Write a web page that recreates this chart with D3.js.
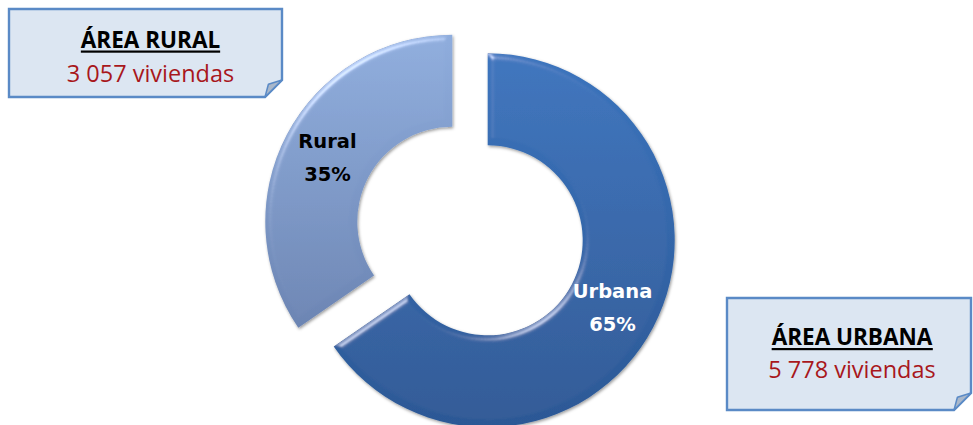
<!DOCTYPE html>
<html>
<head>
<meta charset="utf-8">
<script src="https://cdn.jsdelivr.net/npm/d3@7"></script>
<style>
  html, body { margin: 0; padding: 0; background: #fff; }
  svg { display: block; }
</style>
</head>
<body>
<svg id="chart" width="973" height="425"></svg>
<script>
const categories = ["Urbana", "Rural"];
const viviendas = [5778, 3057];
const boxTitles = ["ÁREA URBANA", "ÁREA RURAL"];
const boxValues = ["5 778 viviendas", "3 057 viviendas"];

const W = 973, H = 425;
const svg = d3.select("#chart");
const defs = svg.append("defs");

// slice gradients (top light -> bottom dark)
const grads = [
  { id: "gUrb", top: "#3b74bd", bottom: "#2c5895" },
  { id: "gRur", top: "#8faddd", bottom: "#6c85b3" }
];
grads.forEach(gr => {
  const lg = defs.append("linearGradient").attr("id", gr.id)
    .attr("x1", 0).attr("y1", 0).attr("x2", 0).attr("y2", 1);
  lg.append("stop").attr("offset", "0%").attr("stop-color", gr.top);
  lg.append("stop").attr("offset", "100%").attr("stop-color", gr.bottom);
});

// soft bevel: highlight only near the edges
const bevel = defs.append("filter").attr("id", "bevel")
  .attr("x", "-10%").attr("y", "-10%").attr("width", "120%").attr("height", "120%");
bevel.append("feGaussianBlur").attr("in", "SourceAlpha").attr("stdDeviation", 3).attr("result", "blur");
const spec = bevel.append("feSpecularLighting").attr("in", "blur")
  .attr("surfaceScale", 4).attr("specularConstant", 0.8).attr("specularExponent", 28)
  .attr("lighting-color", "#ffffff").attr("result", "spec");
spec.append("feDistantLight").attr("azimuth", 235).attr("elevation", 30);
bevel.append("feComposite").attr("in", "spec").attr("in2", "SourceAlpha").attr("operator", "in").attr("result", "specIn");
bevel.append("feComposite").attr("in", "SourceGraphic").attr("in2", "specIn")
  .attr("operator", "arithmetic").attr("k1", 0).attr("k2", 1).attr("k3", 0.55).attr("k4", 0).attr("result", "lit");
bevel.append("feDropShadow").attr("in", "lit").attr("dx", 1).attr("dy", 1.5).attr("stdDeviation", 1.6)
  .attr("flood-color", "#000").attr("flood-opacity", 0.4);

// donut
const cx = 470, cy = 231, explode = 20;
const rInner = 95, rOuter = 187;
const data = categories.map((c, i) => ({ name: c, value: viviendas[i] }));
const total = d3.sum(viviendas);
const pct = d3.format(".0%");

const pie = d3.pie().sort(null).value(d => d.value);
const arc = d3.arc().innerRadius(rInner).outerRadius(rOuter);
const arcs = pie(data);

const g = svg.append("g").attr("transform", `translate(${cx},${cy})`);
const slices = g.selectAll("g.slice").data(arcs).enter().append("g")
  .attr("class", "slice")
  .attr("transform", d => {
    const a = (d.startAngle + d.endAngle) / 2;
    return `translate(${Math.sin(a) * explode},${-Math.cos(a) * explode})`;
  });

slices.append("path")
  .attr("d", arc)
  .attr("fill", (d, i) => `url(#${grads[i].id})`)
  .attr("filter", "url(#bevel)");

const labelColor = ["#ffffff", "#000000"];
slices.each(function(d, i) {
  const [lx, ly] = arc.centroid(d);
  const t = d3.select(this).append("text")
    .attr("text-anchor", "middle")
    .attr("font-family", "DejaVu Sans")
    .attr("font-weight", "bold")
    .attr("font-size", 19.5)
    .attr("fill", labelColor[i]);
  t.append("tspan").attr("x", lx).attr("y", ly - 8).text(d.data.name);
  t.append("tspan").attr("x", lx).attr("y", ly + 25).text(pct(d.data.value / total));
});

// callout boxes with folded corner
const boxes = [
  { x: 727, y: 298, w: 244, h: 112 },
  { x: 9, y: 9, w: 273, h: 88 }
];
const fold = 17;
boxes.forEach((b, i) => {
  const bg = svg.append("g").attr("transform", `translate(${b.x},${b.y})`);
  bg.append("path")
    .attr("d", `M0,0 H${b.w} V${b.h - fold} L${b.w - fold},${b.h} H0 Z`)
    .attr("fill", "#dce6f2")
    .attr("stroke", "#5a8ac6")
    .attr("stroke-width", 2.4)
    .attr("stroke-linejoin", "miter");
  bg.append("path")
    .attr("d", `M${b.w},${b.h - fold} L${b.w - fold * 0.8},${b.h - fold * 0.75} L${b.w - fold},${b.h} Z`)
    .attr("fill", "#a9b7ca")
    .attr("stroke", "#5a8ac6")
    .attr("stroke-width", 1.5)
    .attr("stroke-linejoin", "round");

  const mx = b.w / 2 + (i === 0 ? 3 : 5);
  const titleY = i === 0 ? 47 : 38.5;
  const valueY = i === 0 ? 80 : 72.5;
  const title = bg.append("text")
    .attr("x", mx).attr("y", titleY)
    .attr("text-anchor", "middle")
    .attr("font-family", "Open Sans")
    .attr("font-weight", "bold")
    .attr("font-size", 22.5)
    .attr("fill", "#000")
    .text(boxTitles[i]);
  const bb = title.node().getBBox();
  bg.append("rect")
    .attr("x", bb.x).attr("y", titleY + 3)
    .attr("width", bb.width).attr("height", 2.2)
    .attr("fill", "#000");
  bg.append("text")
    .attr("x", mx).attr("y", valueY)
    .attr("text-anchor", "middle")
    .attr("font-family", "Open Sans")
    .attr("font-size", 23.5)
    .attr("fill", "#a8171c")
    .text(boxValues[i]);
});
</script>
</body>
</html>
